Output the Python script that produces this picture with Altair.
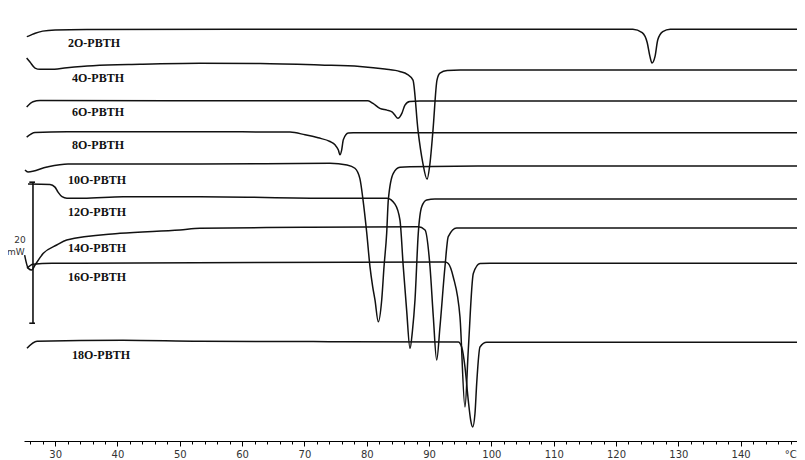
import altair as alt
import pandas as pd

# sample names, vertical offsets (mW) of each trace
names = ["2O-PBTH", "4O-PBTH", "6O-PBTH", "8O-PBTH", "10O-PBTH",
         "12O-PBTH", "14O-PBTH", "16O-PBTH", "18O-PBTH"]
offsets = [58.4, 52.6, 48.2, 43.7, 39.0, 34.3, 30.2, 25.2, 14.0]

# temperature (°C) and heat flow (mW, relative to each trace baseline)
T_2O = [25.45, 25.9, 26.8, 28.0, 30.0, 35.0, 60.0, 100.0, 122.7, 124.2, 125.0, 125.45,
        125.77, 126.25, 126.7, 127.5, 128.7, 135.0, 149.35, 149.65, 150.0]
HF_2O = [-1.06, -0.92, -0.57, -0.28, -0.11, -0.04, 0.0, 0.0, 0.0, -0.5, -1.9, -3.9,
         -4.8, -3.9, -1.5, -0.35, 0.0, 0.0, 0.0, -0.25, 2.0]

T_4O = [25.43, 25.96, 26.77, 27.57, 29.17, 31.9, 36.07, 43.6, 53.2, 62.9, 72.5, 78.9,
        82.9, 85.3, 86.5, 87.42, 88.22, 89.0, 89.67, 90.15, 90.63, 91.27, 91.75, 92.9,
        95.0, 149.35, 149.65, 150.0]
HF_4O = [1.7, 1.13, 0.28, 0.1, 0.1, 0.33, 0.61, 0.81, 0.95, 0.92, 0.71, 0.5,
         0.14, -0.2, -0.6, -1.42, -8.51, -13.19, -15.46, -13.19, -8.51, -1.42, -0.43, -0.07,
         0.0, 0.0, -0.25, 1.4]

T_6O = [25.43, 26.44, 27.57, 50.0, 80.2, 81.0, 82.1, 83.25, 84.05, 84.5, 85.0, 85.65,
        86.13, 86.9, 88.5, 149.35, 149.65, 150.0]
HF_6O = [-0.85, -0.1, 0.07, 0.05, 0.04, -0.33, -1.04, -1.28, -1.52, -1.99, -2.45, -1.7,
         -0.57, -0.05, 0.0, 0.0, -0.25, 1.4]

T_8O = [25.43, 26.77, 31.9, 60.0, 67.7, 70.1, 72.2, 74.1, 74.9, 75.43, 75.7, 75.98,
        76.24, 77.04, 77.84, 149.35, 149.65, 150.0]
HF_8O = [-0.61, 0.04, 0.14, 0.14, 0.1, -0.28, -0.71, -1.23, -1.7, -2.41, -3.12, -2.41,
         -0.99, -0.04, 0.0, 0.0, -0.25, 1.4]

T_10O = [25.16, 25.64, 28.69, 32.06, 53.24, 74.1, 76.83, 78.1, 78.9, 79.4, 80.0, 80.52,
         80.95, 81.32, 81.85, 82.4, 82.77, 83.2, 83.46, 84.26, 85.33, 86.94, 100.0,
         149.35, 149.65, 150.0]
HF_10O = [-0.57, -0.85, -0.14, 0.28, 0.28, 0.38, 0.14, -0.33, -1.8, -4.8, -9.5, -14.3,
          -17.1, -19.0, -22.1, -19.0, -14.3, -9.5, -4.8, -1.04, -0.18, -0.1, 0.0,
          0.0, -0.25, 1.4]

T_12O = [25.64, 29.17, 29.97, 30.46, 31.1, 31.9, 34.47, 40.89, 53.24, 74.1, 83.25, 84.53,
         85.33, 85.86, 86.4, 86.94, 87.34, 87.74, 88.27, 88.82, 89.62, 90.95,
         149.35, 149.65, 150.0]
HF_12O = [2.13, 2.06, 1.7, 0.99, 0.35, 0.14, 0.14, 0.35, 0.35, 0.14, 0.14, -0.71,
          -2.98, -9.6, -15.74, -21.18, -18.6, -14.3, -4.82, -1.09, -0.14, 0.0,
          0.0, -0.25, 1.4]

T_14O = [25.1, 25.69, 26.24, 26.77, 28.1, 30.25, 31.85, 40.4, 50.03, 53.24, 70.0, 88.27,
         89.35, 90.15, 90.68, 91.22, 91.75, 92.55, 93.08, 94.43, 149.35, 149.65, 150.0]
HF_14O = [-3.83, -5.72, -5.96, -5.25, -3.59, -2.41, -1.7, -0.75, -0.28, -0.04, 0.1, 0.18,
          -0.28, -5.49, -12.58, -18.72, -14.0, -5.49, -1.23, 0.0, 0.0, -0.25, 1.4]

T_16O = [25.48, 26.44, 29.49, 43.13, 92.55, 93.08, 93.88, 94.96, 95.76, 96.29, 97.1,
         98.17, 99.78, 149.35, 149.65, 150.0]
HF_16O = [-0.71, -0.14, 0.0, 0.04, 0.18, -0.04, -1.94, -7.62, -20.38, -12.34, -1.46,
          -0.04, 0.0, 0.0, -0.25, 1.4]

T_18O = [25.48, 27.09, 40.89, 53.24, 94.69, 95.23, 95.76, 96.29, 96.68, 97.0, 97.37,
         97.64, 98.17, 99.25, 149.35, 149.65, 150.0]
HF_18O = [-0.85, 0.14, 0.28, 0.14, 0.04, -0.67, -3.5, -8.23, -11.06, -12.01, -10.07,
          -5.86, -0.67, 0.0, 0.0, -0.25, 1.4]

curves = [(T_2O, HF_2O), (T_4O, HF_4O), (T_6O, HF_6O), (T_8O, HF_8O), (T_10O, HF_10O),
          (T_12O, HF_12O), (T_14O, HF_14O), (T_16O, HF_16O), (T_18O, HF_18O)]

# sample label anchors (°C, mW)
label_T = [32.06, 32.7, 32.7, 32.7, 32.06, 32.06, 32.06, 32.06, 32.7]
label_mW = [56.45, 51.49, 46.67, 41.99, 37.02, 32.48, 27.38, 23.26, 12.2]

# 20 mW scale bar
bar_T = 26.44
bar_tick_T = [25.85, 26.77]
bar_low, bar_high = 16.7, 36.7
bar_text = ["20", "mW"]
bar_text_T = [24.36, 23.7]
bar_text_mW = [28.5, 26.8]

# x axis: ticks every 2 °C, labels every 10 °C, unit label at the end
tick_values = list(range(26, 149, 2))
unit_label = "°C"
unit_T = 149.0
unit_mW = -1.95

rows = []
for name, off, (ts, hs) in zip(names, offsets, curves):
    for t, h in zip(ts, hs):
        rows.append({"sample": name, "T": t, "hf": off + h})
df = pd.DataFrame(rows)

xscale = alt.Scale(domain=[25, 149.04], nice=False, zero=False)
yscale = alt.Scale(domain=[0, 61.4], nice=False, zero=False)

xaxis = alt.Axis(
    values=tick_values,
    tickCount=200,
    format="d",
    title=None,
    grid=False,
    labelExpr="datum.value % 10 == 0 ? datum.label : ''",
    tickSize={"condition": {"test": "datum.value % 10 == 0", "value": 5}, "value": 3},
    labelOverlap=False,
    labelFlush=False,
    labelFont="DejaVu Sans",
    labelFontSize=10,
    labelColor="#333333",
    labelPadding=3,
    domainColor="#000000",
    tickColor="#000000",
)

lines = alt.Chart(df).mark_line(
    interpolate="monotone", color="#111111", strokeWidth=1.5
).encode(
    x=alt.X("T:Q", scale=xscale, axis=xaxis),
    y=alt.Y("hf:Q", scale=yscale, axis=None),
    detail="sample:N",
    order="T:Q",
)

lab_df = pd.DataFrame({"label": names, "T": label_T, "hf": label_mW})
labels = alt.Chart(lab_df).mark_text(
    align="left", baseline="middle", font="Liberation Serif", fontWeight="bold",
    fontSize=12, color="#111111"
).encode(x=alt.X("T:Q", scale=xscale), y=alt.Y("hf:Q", scale=yscale), text="label:N")

vbar = alt.Chart(pd.DataFrame({"T": [bar_T], "lo": [bar_low], "hi": [bar_high]})).mark_rule(
    color="#111111", strokeWidth=1.6
).encode(x=alt.X("T:Q", scale=xscale), y=alt.Y("lo:Q", scale=yscale), y2="hi:Q")

hbar = alt.Chart(pd.DataFrame({"T": [bar_tick_T[0]] * 2, "T2": [bar_tick_T[1]] * 2,
                               "v": [bar_low, bar_high]})).mark_rule(
    color="#111111", strokeWidth=1.6
).encode(x=alt.X("T:Q", scale=xscale), x2="T2:Q", y=alt.Y("v:Q", scale=yscale))

bar_lab = alt.Chart(pd.DataFrame({"t": bar_text, "T": bar_text_T, "hf": bar_text_mW})).mark_text(
    align="center", baseline="middle", font="DejaVu Sans", fontSize=9, color="#333333"
).encode(x=alt.X("T:Q", scale=xscale), y=alt.Y("hf:Q", scale=yscale), text="t:N")

unit = alt.Chart(pd.DataFrame({"t": [unit_label], "T": [unit_T], "hf": [unit_mW]})).mark_text(
    align="right", baseline="middle", font="DejaVu Sans", fontSize=10, color="#333333"
).encode(x=alt.X("T:Q", scale=xscale), y=alt.Y("hf:Q", scale=yscale), text="t:N")

chart = alt.layer(lines, labels, vbar, hbar, bar_lab, unit).properties(
    width=773, height=433,
    padding={"left": 16, "top": 0, "right": 0, "bottom": 19},
    autosize=alt.AutoSizeParams(type="none"),
).configure_view(strokeWidth=0)

chart.save("out.html", embed_options={"renderer": "svg", "actions": False})
